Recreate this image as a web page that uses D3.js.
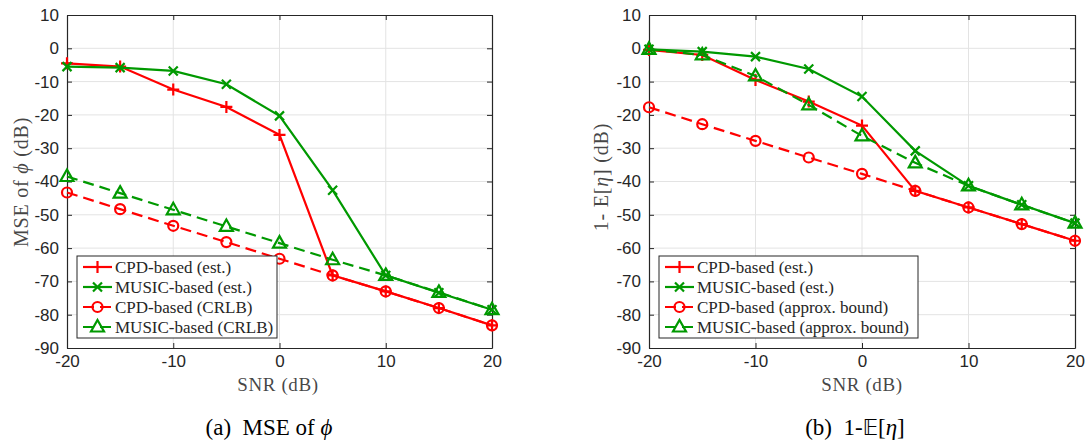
<!DOCTYPE html>
<html>
<head>
<meta charset="utf-8">
<script src="https://cdn.jsdelivr.net/npm/d3@7"></script>
<style>
  body { margin: 0; background: #fff; }
  svg { display: block; }
  .tick text { font-family: "Liberation Sans", Arial, sans-serif; font-size: 17px; fill: #262626; }
  .serif { font-family: "Liberation Serif", "Times New Roman", serif; fill: #262626; }
</style>
</head>
<body>
<svg id="chart" width="1086" height="440"></svg>
<script>
// x values and ticks shared by both panels
const snr = [-20, -15, -10, -5, 0, 5, 10, 15, 20];
const xTicks = [-20, -10, 0, 10, 20];
const yTicks = [10, 0, -10, -20, -30, -40, -50, -60, -70, -80, -90];

// (a) MSE of phi
const mseCpdEst = [-4.5, -5.5, -12.4, -17.6, -26, -68.2, -73, -78, -83.2];
const mseMusicEst = [-5.5, -5.8, -6.8, -10.8, -20.3, -42.6, -68.2, -73.4, -78.5];
const mseCpdCrlb = [-43.3, -48.3, -53.3, -58.2, -63.2, -68.2, -73, -78, -83.2];
const mseMusicCrlb = [-38.5, -43.5, -48.5, -53.5, -58.5, -63.5, -68.2, -73.3, -78.5];

// (b) 1 - E[eta]
const etaCpdEst = [-0.5, -2, -9.5, -16, -23.2, -42.8, -47.8, -52.8, -57.8];
const etaMusicEst = [-0.3, -1, -2.5, -6.2, -14.5, -30.8, -41.3, -47, -52.5];
const etaCpdBound = [-17.7, -22.8, -27.8, -32.8, -37.7, -42.8, -47.8, -52.8, -57.8];
const etaMusicBound = [-0.3, -2, -8.3, -17, -26.3, -34.4, -41.3, -47, -52.5];

const legendA = ["CPD-based (est.)", "MUSIC-based (est.)", "CPD-based (CRLB)", "MUSIC-based (CRLB)"];
const legendB = ["CPD-based (est.)", "MUSIC-based (est.)", "CPD-based (approx. bound)", "MUSIC-based (approx. bound)"];

const RED = "#ff0000", GREEN = "#009900", AXIS = "#262626";

const svg = d3.select("#chart");

function marker(g, type, x, y, color) {
  if (type === "plus") {
    g.append("path").attr("d", `M${x - 6},${y}H${x + 6}M${x},${y - 6}V${y + 6}`)
      .attr("stroke", color).attr("stroke-width", 2.2).attr("fill", "none");
  } else if (type === "cross") {
    g.append("path").attr("d", `M${x - 4.5},${y - 4.5}L${x + 4.5},${y + 4.5}M${x - 4.5},${y + 4.5}L${x + 4.5},${y - 4.5}`)
      .attr("stroke", color).attr("stroke-width", 2.2).attr("fill", "none");
  } else if (type === "circle") {
    g.append("circle").attr("cx", x).attr("cy", y).attr("r", 5)
      .attr("stroke", color).attr("stroke-width", 2.2).attr("fill", "none");
  } else {
    g.append("path").attr("d", `M${x},${y - 7}L${x + 6.5},${y + 4.5}L${x - 6.5},${y + 4.5}Z`)
      .attr("stroke", color).attr("stroke-width", 2.2).attr("fill", "none");
  }
}

function drawPanel(cfg) {
  const x = d3.scaleLinear().domain([-20, 20]).range([cfg.left, cfg.right]);
  const y = d3.scaleLinear().domain([-90, 10]).range([348, 15]);
  const g = svg.append("g");

  // grid
  g.append("g").selectAll("line").data(xTicks.slice(1, -1)).join("line")
    .attr("x1", d => x(d)).attr("x2", d => x(d)).attr("y1", y(10)).attr("y2", y(-90))
    .attr("stroke", "#e3e3e3").attr("stroke-width", 1);
  g.append("g").selectAll("line").data(yTicks.slice(1, -1)).join("line")
    .attr("y1", d => y(d)).attr("y2", d => y(d)).attr("x1", x(-20)).attr("x2", x(20))
    .attr("stroke", "#e3e3e3").attr("stroke-width", 1);

  // axes (ticks inward, box on all four sides)
  const fmt = d => String(d);
  const styleAxis = a => {
    a.select(".domain").attr("stroke", AXIS).attr("stroke-width", 1.2);
    a.selectAll(".tick line").attr("stroke", AXIS);
  };
  g.append("g").attr("transform", `translate(0,${y(-90)})`)
    .call(d3.axisBottom(x).tickValues(xTicks).tickFormat(fmt).tickSizeInner(-5).tickSizeOuter(0).tickPadding(7))
    .call(styleAxis);
  g.append("g").attr("transform", `translate(${x(-20)},0)`)
    .call(d3.axisLeft(y).tickValues(yTicks).tickFormat(fmt).tickSizeInner(-5).tickSizeOuter(0).tickPadding(8))
    .call(styleAxis);
  g.append("g").attr("transform", `translate(0,${y(10)})`)
    .call(d3.axisTop(x).tickValues(xTicks).tickFormat("").tickSizeInner(-5).tickSizeOuter(0))
    .call(styleAxis);
  g.append("g").attr("transform", `translate(${x(20)},0)`)
    .call(d3.axisRight(y).tickValues(yTicks).tickFormat("").tickSizeInner(-5).tickSizeOuter(0))
    .call(styleAxis);

  // series
  const line = d3.line().x((d, i) => x(snr[i])).y(d => y(d));
  cfg.series.forEach(s => {
    g.append("path").datum(s.values).attr("d", line)
      .attr("fill", "none").attr("stroke", s.color).attr("stroke-width", 2.2)
      .attr("stroke-dasharray", s.dashed ? "11,6" : null);
    const mg = g.append("g");
    s.values.forEach((v, i) => marker(mg, s.marker, x(snr[i]), y(v), s.color));
  });

  // legend
  const lx = cfg.legend.x, ly = 256;
  const lg = g.append("g");
  lg.append("rect").attr("x", lx).attr("y", ly).attr("width", cfg.legend.w).attr("height", 82)
    .attr("fill", "#fff").attr("stroke", AXIS).attr("stroke-width", 1);
  cfg.series.forEach((s, i) => {
    const cy = ly + 11 + i * 20;
    lg.append("line").attr("x1", lx + 6).attr("x2", lx + 35).attr("y1", cy).attr("y2", cy)
      .attr("stroke", s.color).attr("stroke-width", 2.2)
      .attr("stroke-dasharray", s.dashed ? "11,6" : null);
    marker(lg, s.marker, lx + 20.5, cy, s.color);
    lg.append("text").attr("class", "serif").attr("x", lx + 38).attr("y", cy + 5.5)
      .attr("font-size", 17).text(cfg.legend.labels[i]);
  });

  // labels
  g.append("text").attr("class", "serif").attr("x", cfg.xlabelX).attr("y", 391)
    .attr("text-anchor", "middle").attr("font-size", 19).attr("letter-spacing", 0.6)
    .attr("fill-opacity", 0.85).text("SNR (dB)");
  const yl = g.append("text").attr("class", "serif")
    .attr("transform", `translate(${cfg.ylabelX},${cfg.ylabelY}) rotate(-90)`)
    .attr("text-anchor", "middle").attr("font-size", 20).attr("letter-spacing", 0.8)
    .attr("fill-opacity", 0.85);
  cfg.ylabel(yl);
  const cap = g.append("text").attr("x", cfg.capX).attr("y", 435)
    .attr("text-anchor", "middle").attr("font-size", 23)
    .attr("font-family", "'Liberation Serif', 'Times New Roman', serif").attr("fill", "#000");
  cfg.caption(cap);
}

drawPanel({
  left: 67, right: 492, ylabelX: 28, ylabelY: 182, xlabelX: 278, capX: 269,
  series: [
    { values: mseCpdEst, color: RED, marker: "plus", dashed: false },
    { values: mseMusicEst, color: GREEN, marker: "cross", dashed: false },
    { values: mseCpdCrlb, color: RED, marker: "circle", dashed: true },
    { values: mseMusicCrlb, color: GREEN, marker: "tri", dashed: true }
  ],
  legend: { x: 77, w: 200, labels: legendA },
  ylabel: t => {
    t.append("tspan").text("MSE of ");
    t.append("tspan").attr("font-style", "italic").text("ϕ");
    t.append("tspan").text(" (dB)");
  },
  caption: t => {
    t.append("tspan").text("(a)\u00a0\u00a0MSE of ");
    t.append("tspan").attr("font-style", "italic").text("ϕ");
  }
});

drawPanel({
  left: 649, right: 1075, ylabelX: 608, ylabelY: 177, xlabelX: 862, capX: 855,
  series: [
    { values: etaCpdEst, color: RED, marker: "plus", dashed: false },
    { values: etaMusicEst, color: GREEN, marker: "cross", dashed: false },
    { values: etaCpdBound, color: RED, marker: "circle", dashed: true },
    { values: etaMusicBound, color: GREEN, marker: "tri", dashed: true }
  ],
  legend: { x: 659, w: 259, labels: legendB },
  ylabel: t => {
    t.append("tspan").text("1- E[");
    t.append("tspan").attr("font-style", "italic").text("η");
    t.append("tspan").text("] (dB)");
  },
  caption: t => {
    t.append("tspan").text("(b)\u00a0\u00a01-");
    t.append("tspan").attr("font-family", "'DejaVu Sans', sans-serif").attr("font-size", 21).text("𝔼");
    t.append("tspan").text("[");
    t.append("tspan").attr("font-style", "italic").text("η");
    t.append("tspan").text("]");
  }
});
</script>
</body>
</html>
